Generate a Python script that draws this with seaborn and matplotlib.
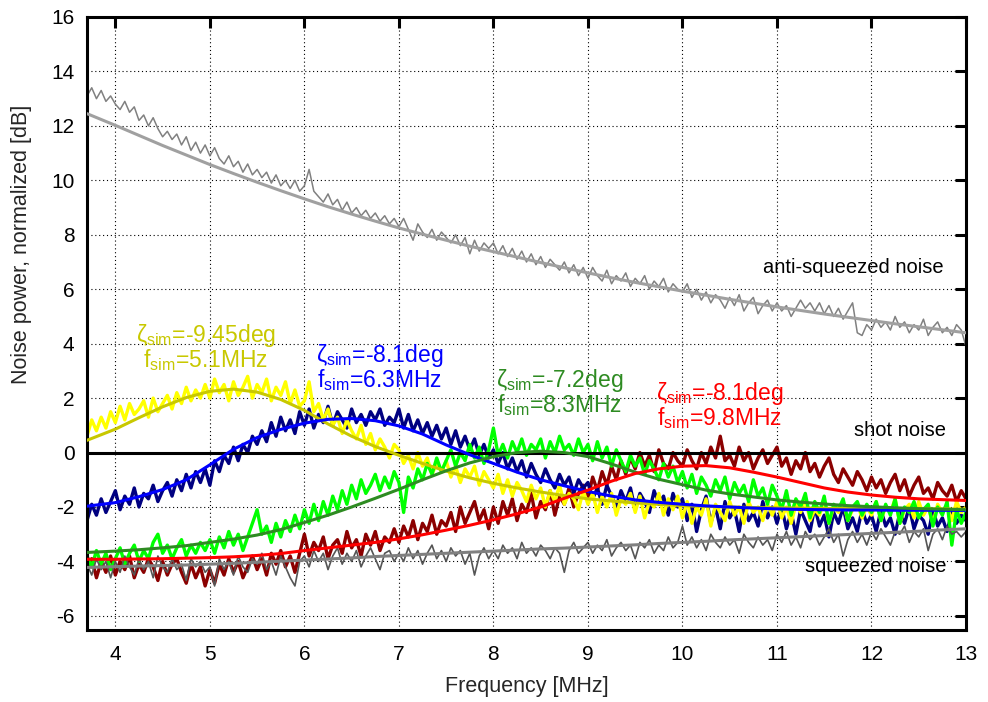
import matplotlib
matplotlib.use("Agg")
import matplotlib.pyplot as plt
import seaborn as sns

# Frequency grids (MHz): measured spectra and simulated curves
freq_trace = [round(3.7 + 0.05 * k, 2) for k in range(187)]
freq_fit = [3.7] + [4.0 + 0.25 * k for k in range(37)]

# Measured noise spectra [dB], normalized to shot noise
anti_trace = [13.1, 13.4, 13.0, 13.3, 12.9, 13.1,
              12.8, 12.6, 12.9, 12.5, 12.7, 12.2, 12.4, 12.0, 12.3, 11.9, 11.6, 11.8, 11.5, 11.7, 11.3, 11.6, 11.1, 11.4, 11.0, 11.3,
              10.9, 11.2, 10.8, 10.6, 10.9, 10.5, 10.7, 10.3, 10.6, 10.2, 10.4, 10.1, 10.3, 9.9, 10.2, 9.8, 10.0, 9.7, 10.0, 9.6,
              9.8, 10.4, 9.6, 9.4, 9.2, 9.5, 9.1, 9.3, 8.9, 9.2, 8.8, 9.0, 8.7, 8.9, 8.6, 8.8, 8.5, 8.7, 8.4, 8.6,
              8.3, 8.6, 8.2, 7.8, 8.4, 8.1, 7.9, 8.2, 7.8, 8.1, 7.9, 7.7, 8.0, 7.6, 7.9, 7.3, 7.8, 7.4, 7.7, 7.5,
              7.7, 7.3, 7.6, 7.2, 7.5, 7.1, 7.4, 7.0, 7.3, 6.9, 7.2, 6.8, 7.1, 6.9, 6.7, 7.0, 6.6, 6.9, 6.5, 6.8,
              6.4, 6.8, 6.5, 6.3, 6.7, 6.2, 6.5, 6.3, 6.6, 6.1, 6.4, 6.2, 6.5, 6.0, 6.3, 6.1, 6.4, 5.9, 6.2, 6.0,
              5.9, 6.2, 5.7, 6.0, 5.6, 5.9, 5.5, 5.8, 5.6, 5.3, 5.7, 5.4, 5.8, 5.2, 5.5, 5.7, 5.1, 5.4, 5.6, 5.2,
              5.5, 5.2, 5.4, 5.0, 5.3, 5.6, 5.3, 5.5, 5.2, 5.5, 5.1, 5.4, 5.0, 5.3, 4.9, 5.2, 5.5, 4.4, 4.3, 4.7,
              4.5, 4.9, 4.6, 4.8, 4.5, 5.0, 4.6, 4.8, 4.4, 4.7, 4.5, 4.9, 4.3, 4.6, 4.8, 4.4, 4.6, 4.3, 4.7, 4.5,
              3.9]

sq_trace = [-4.1, -4.5, -3.9, -4.3, -4.0, -4.6,
            -4.0, -4.4, -3.8, -4.2, -4.5, -3.9, -4.3, -4.0, -4.6, -3.8, -4.2, -4.4, -3.9, -4.3, -4.1, -4.7, -3.9, -4.2, -4.0, -4.4,
            -4.2, -4.9, -3.9, -4.3, -4.0, -4.5, -3.8, -4.2, -4.4, -3.9, -4.1, -3.7, -4.3, -4.0, -4.5, -3.8, -4.2, -4.6, -4.9, -4.0,
            -3.8, -4.2, -3.6, -4.0, -3.7, -4.3, -3.8, -3.5, -4.1, -3.7, -4.0, -3.6, -4.2, -3.8, -3.5, -3.9, -4.3, -3.7, -3.6, -4.0,
            -3.7, -4.0, -3.5, -3.9, -3.6, -4.1, -3.7, -3.4, -3.9, -3.6, -4.0, -3.5, -3.8, -3.6, -4.1, -3.7, -4.5, -3.8, -3.5, -3.9,
            -3.6, -3.9, -3.4, -3.7, -3.5, -3.9, -3.3, -3.7, -3.5, -3.8, -3.4, -3.6, -3.9, -3.5, -3.7, -4.4, -3.6, -3.3, -3.7, -3.5,
            -3.3, -3.7, -3.4, -3.6, -3.2, -3.8, -3.5, -3.3, -3.6, -3.4, -3.9, -3.3, -3.5, -3.2, -3.7, -3.4, -3.6, -3.1, -3.5, -3.3,
            -2.7, -3.4, -3.1, -3.5, -3.2, -3.6, -3.0, -3.3, -3.5, -3.1, -3.4, -3.2, -3.7, -3.0, -3.3, -3.5, -3.1, -3.4, -3.2, -3.6,
            -3.0, -3.3, -2.9, -3.4, -3.1, -3.5, -2.9, -3.2, -3.0, -3.4, -3.1, -2.8, -3.3, -3.0, -3.8, -3.2, -2.9, -3.3, -3.0, -3.4,
            -2.9, -3.2, -2.8, -3.1, -3.4, -2.9, -3.0, -2.7, -3.3, -2.9, -3.1, -2.8, -3.6, -3.0, -2.8, -3.2, -2.7, -3.0, -2.9, -3.1,
            -2.9]

yellow_trace = [0.6, 1.2, 0.8, 1.3, 0.9, 1.5,
                1.1, 1.7, 1.2, 1.8, 1.4, 1.6, 1.9, 1.3, 2.0, 1.5, 1.8, 2.1, 1.6, 2.2, 1.8, 2.4, 1.9, 2.3, 2.0, 2.5,
                2.0, 2.7, 2.2, 2.5, 1.9, 2.6, 2.1, 2.4, 2.8, 2.0, 2.5, 2.2, 2.7, 1.9, 2.4, 2.1, 2.6, 1.8, 2.3, 1.7,
                1.9, 2.6, 1.5, 1.8, 1.2, 1.6, 1.0, 1.3, 0.7, 1.2, 0.8, 0.5, 1.0, 0.3, 0.7, 0.1, 0.5, 0.2, -0.2, 0.3,
                0.1, -0.4, -0.1, -0.6, 0.0, -0.5, -0.2, -0.8, -0.4, -0.7, -0.3, -0.9, -0.5, -1.1, -0.6, -0.9, -0.5, -1.2, -0.7, -1.0,
                -1.3, -0.8, -1.5, -1.0, -1.6, -1.1, -1.4, -1.8, -1.2, -1.7, -1.3, -2.0, -1.4, -1.8, -1.2, -1.9, -1.5, -1.7, -2.1, -1.4,
                -1.9, -1.5, -2.2, -1.6, -2.0, -1.5, -2.3, -1.7, -1.9, -1.5, -2.2, -1.6, -2.4, -1.8, -2.0, -1.5, -2.3, -1.7, -2.1, -1.6,
                -2.4, -1.8, -2.6, -2.0, -2.3, -1.7, -2.7, -1.9, -2.2, -2.5, -1.8, -2.3, -2.0, -2.6, -1.8, -2.2, -2.0, -2.5, -1.9, -2.3,
                -1.8, -2.4, -2.0, -2.6, -1.9, -2.2, -1.7, -2.5, -2.1, -2.3, -1.8, -2.6, -2.0, -2.2, -1.8, -2.5, -2.1, -1.9, -2.4, -2.0,
                -2.3, -1.8, -2.5, -2.0, -2.2, -1.7, -2.6, -2.1, -1.9, -2.4, -1.8, -2.3, -2.0, -2.6, -1.9, -2.2, -2.0, -2.5, -1.8, -2.2,
                -2.0]

blue_trace = [-2.5, -1.9, -2.3, -1.7, -2.2, -1.8,
              -1.4, -2.1, -1.6, -1.9, -1.3, -2.0, -1.5, -1.7, -1.2, -1.8, -1.4, -1.1, -1.6, -1.0, -1.4, -0.8, -1.3, -0.7, -1.1, -0.6,
              -1.2, -0.3, -0.7, -0.1, -0.4, 0.2, -0.3, 0.3, 0.0, 0.6, 0.3, 0.8, 0.4, 1.1, 0.6, 1.3, 0.8, 1.2, 0.7, 1.5,
              1.0, 1.6, 0.9, 1.4, 1.1, 1.7, 1.0, 1.5, 1.2, 0.9, 1.6, 1.1, 1.4, 1.0, 1.5, 1.2, 1.6, 1.0, 1.3, 1.1,
              1.6, 0.9, 1.4, 0.8, 1.2, 0.7, 1.1, 0.6, 1.0, 0.5, 0.9, 0.3, 0.8, 0.2, 0.6, 0.1, 0.5, -0.1, 0.3, -0.2,
              0.1, -0.4, 0.0, -0.6, -0.2, -0.7, -0.3, -0.9, -0.4, -0.8, -1.1, -0.6, -1.0, -1.3, -0.8, -1.2, -0.9, -1.5, -1.0, -1.3,
              -1.1, -1.7, -1.3, -1.9, -1.2, -1.6, -2.0, -1.4, -1.8, -1.3, -2.1, -1.5, -1.8, -2.2, -1.4, -1.9, -1.6, -2.3, -1.5, -2.0,
              -1.7, -2.5, -1.9, -2.9, -2.1, -1.6, -2.6, -2.0, -2.8, -1.8, -2.4, -2.1, -2.9, -1.9, -2.5, -2.2, -2.7, -1.8, -2.4, -2.0,
              -2.6, -2.0, -2.8, -2.2, -3.0, -2.1, -2.5, -2.9, -2.0, -2.7, -2.3, -3.1, -2.2, -2.6, -2.0, -2.8, -2.4, -2.9, -2.1, -2.6,
              -2.3, -2.9, -2.1, -2.7, -2.4, -3.0, -2.2, -2.6, -2.0, -2.8, -2.3, -2.5, -3.0, -2.1, -2.7, -2.4, -2.9, -2.2, -2.6, -2.3,
              -2.5]

green_trace = [-3.8, -4.2, -3.6, -4.1, -3.7, -4.3,
               -3.9, -3.5, -4.1, -3.7, -3.4, -4.0, -3.6, -3.9, -3.3, -3.0, -3.7, -3.4, -3.9, -3.5, -3.2, -3.8, -3.4, -3.7, -3.3, -3.6,
               -3.2, -3.7, -3.1, -3.5, -2.9, -3.4, -3.0, -3.6, -3.1, -2.6, -2.1, -3.0, -2.7, -3.3, -2.6, -3.1, -2.5, -2.9, -2.3, -2.8,
               -2.1, -2.6, -1.9, -2.5, -1.8, -2.3, -1.6, -2.1, -1.4, -1.9, -1.2, -1.7, -1.0, -1.5, -1.2, -0.8, -1.4, -0.9, -1.3, -0.7,
               -1.1, -2.2, -0.9, -1.3, -0.6, -1.0, -0.4, -0.8, -0.2, -0.7, -0.3, 0.1, -0.5, 0.0, -0.3, 0.3, -0.2, 0.2, -0.4, 0.1,
               0.9, -0.1, 0.3, -0.2, 0.4, 0.0, 0.5, -0.1, 0.3, 0.1, 0.5, -0.2, 0.4, 0.0, 0.6, 0.1, 0.3, -0.1, 0.5, 0.0,
               0.3, -0.3, 0.4, -0.2, 0.2, -0.5, 0.1, -0.3, -0.7, -0.1, -0.5, -0.2, -0.8, -0.3, -0.6, -1.0, -0.4, -0.9, -0.5, -1.1,
               -0.7, -1.3, -0.8, -1.5, -0.9, -1.2, -1.6, -1.0, -1.4, -0.9, -1.7, -1.1, -1.5, -1.2, -1.8, -1.0, -1.6, -1.3, -1.9, -1.2,
               -1.6, -2.1, -1.4, -2.3, -1.7, -2.0, -1.5, -2.4, -1.8, -2.2, -1.6, -2.6, -1.9, -2.1, -1.7, -2.5, -2.0, -1.8, -2.3, -1.9,
               -2.2, -1.8, -2.5, -1.9, -2.3, -1.7, -2.6, -2.0, -2.2, -1.8, -2.4, -2.1, -1.9, -2.7, -2.0, -2.3, -1.8, -3.4, -2.1, -2.6,
               -2.2]

red_trace = [-4.3, -3.9, -4.6, -4.0, -4.4, -3.8,
             -4.5, -4.0, -4.3, -3.8, -4.6, -4.1, -4.4, -3.9, -4.2, -4.7, -4.0, -4.5, -4.1, -3.9, -4.4, -4.8, -4.1, -4.6, -4.2, -4.9,
             -4.3, -4.8, -4.1, -4.5, -3.9, -4.4, -4.0, -4.6, -4.2, -3.8, -4.3, -3.9, -4.5, -3.7, -4.1, -3.6, -4.2, -3.8, -4.4, -3.7,
             -3.0, -3.8, -3.3, -3.6, -3.1, -3.9, -3.4, -3.2, -3.7, -2.9, -3.5, -3.2, -3.8, -3.0, -3.4, -2.9, -3.6, -3.1, -3.3, -2.8,
             -3.3, -2.7, -3.1, -2.5, -3.2, -2.6, -2.9, -2.3, -3.0, -2.5, -2.7, -2.2, -2.9, -2.0, -2.6, -2.2, -1.8, -2.5, -2.1, -2.8,
             -2.0, -2.6, -1.8, -2.3, -1.7, -2.5, -1.9, -2.2, -1.5, -2.4, -1.8, -2.1, -1.4, -2.3, -1.6, -1.9, -1.3, -2.0, -1.5, -1.2,
             -1.7, -0.9, -1.4, -0.7, -1.2, -0.5, -1.0, -0.3, -0.8, -0.2, -0.6, 0.0, -0.5, -0.1, -0.7, 0.1, -0.4, -0.6, 0.0, -0.3,
             -0.5, 0.1, -0.3, -0.6, 0.0, -0.4, 0.2, -0.2, 0.6, -0.3, -0.1, -0.5, 0.2, -0.3, 0.0, -0.6, -0.2, 0.1, -0.4, -0.1,
             0.2, -0.5, -0.2, -0.8, -0.3, -0.6, 0.0, -0.7, -0.4, -0.9, -0.5, -0.2, -0.8, -1.1, -0.6, -0.9, -1.2, -0.7, -1.0, -1.4,
             -0.9, -1.3, -1.0, -1.5, -1.1, -0.8, -1.4, -1.0, -1.6, -1.2, -0.9, -1.5, -1.3, -1.7, -1.1, -1.4, -1.6, -1.2, -1.8, -1.4,
             -1.7]

# Simulated spectra [dB]
anti_fit = [12.45, 12.02, 11.65, 11.28, 10.93, 10.58, 10.25, 9.93, 9.62, 9.32, 9.03, 8.76, 8.5,
            8.25, 8.02, 7.8, 7.58, 7.38, 7.18, 6.98, 6.79, 6.6, 6.42, 6.25, 6.09, 5.93, 5.78,
            5.63, 5.49, 5.35, 5.22, 5.09, 4.97, 4.85, 4.73, 4.62, 4.51, 4.4]
sq_fit = [-4.22, -4.19, -4.17, -4.15, -4.13, -4.1, -4.07, -4.03, -3.99, -3.95, -3.91, -3.87, -3.82,
          -3.78, -3.74, -3.7, -3.66, -3.62, -3.58, -3.54, -3.51, -3.47, -3.43, -3.39, -3.34, -3.3,
          -3.26, -3.21, -3.17, -3.13, -3.09, -3.05, -3.01, -2.97, -2.93, -2.89, -2.84, -2.8]
yellow_fit = [0.45, 0.86, 1.28, 1.68, 2.02, 2.25, 2.33, 2.22, 1.95, 1.55, 1.05, 0.6, 0.22,
              -0.1, -0.4, -0.68, -0.93, -1.13, -1.3, -1.45, -1.58, -1.7, -1.78, -1.85, -1.9, -1.95,
              -1.98, -2.0, -2.02, -2.03, -2.04, -2.05, -2.05, -2.06, -2.06, -2.07, -2.07, -2.08]
blue_fit = [-1.97, -1.84, -1.62, -1.36, -1.0, -0.45, 0.12, 0.55, 0.85, 1.08, 1.22, 1.25, 1.17,
            0.98, 0.68, 0.28, -0.08, -0.4, -0.72, -1.0, -1.22, -1.43, -1.6, -1.74, -1.83, -1.9,
            -1.96, -2.0, -2.04, -2.07, -2.09, -2.1, -2.11, -2.11, -2.12, -2.12, -2.12, -2.13]
green_fit = [-3.67, -3.62, -3.57, -3.5, -3.42, -3.3, -3.18, -3.03, -2.83, -2.57, -2.3, -2.0, -1.68,
             -1.35, -1.0, -0.67, -0.38, -0.15, 0.0, 0.05, 0.0, -0.15, -0.42, -0.72, -0.98, -1.18,
             -1.38, -1.52, -1.63, -1.74, -1.82, -1.89, -1.95, -1.99, -2.03, -2.06, -2.08, -2.1]
red_fit = [-3.92, -3.92, -3.91, -3.9, -3.88, -3.86, -3.83, -3.78, -3.71, -3.6, -3.5, -3.4, -3.3,
           -3.17, -3.02, -2.85, -2.67, -2.47, -2.25, -2.0, -1.68, -1.38, -1.05, -0.77, -0.6, -0.5,
           -0.48, -0.56, -0.72, -0.9, -1.1, -1.3, -1.45, -1.56, -1.64, -1.7, -1.73, -1.76]

# Simulation parameters written next to each curve (two centred lines)
sim_labels = [
    (r"$\zeta_{sim}$=-9.45deg" + "\n" + r"$f_{sim}$=5.1MHz", "#c8c800", 4.955, 3.15),
    (r"$\zeta_{sim}$=-8.1deg" + "\n" + r"$f_{sim}$=6.3MHz", "#0000ff", 6.80, 2.41),
    (r"$\zeta_{sim}$=-7.2deg" + "\n" + r"$f_{sim}$=8.3MHz", "#2e8b22", 8.70, 1.49),
    (r"$\zeta_{sim}$=-8.1deg" + "\n" + r"$f_{sim}$=9.8MHz", "#ff0000", 10.39, 1.01),
]

sns.set_theme(style="white")
plt.rcParams["font.family"] = ["Liberation Sans", "DejaVu Sans"]
plt.rcParams["mathtext.fontset"] = "custom"
plt.rcParams["mathtext.rm"] = "Liberation Sans"
plt.rcParams["mathtext.it"] = "Liberation Sans"
plt.rcParams["mathtext.default"] = "regular"
plt.rcParams["axes.unicode_minus"] = False

fig = plt.figure(figsize=(9.88, 7.02), dpi=100)
ax = fig.add_axes([87 / 988, 1 - 629.5 / 702, 879 / 988, 612.5 / 702])

def trace(y, color, lw, z):
    sns.lineplot(x=freq_trace, y=y, ax=ax, color=color, linewidth=lw,
                 estimator=None, sort=False, zorder=z)

def fit(y, color, lw, z):
    sns.lineplot(x=freq_fit, y=y, ax=ax, color=color, linewidth=lw,
                 estimator=None, sort=False, zorder=z)

trace(anti_trace, "#808080", 1.1, 2)
trace(red_trace, "#8b0000", 2.4, 2)
trace(blue_trace, "#000080", 2.4, 2)
trace(yellow_trace, "#ffff00", 2.4, 2)
trace(green_trace, "#00ff00", 2.4, 2)
trace(sq_trace, "#555555", 1.2, 2)

ax.axhline(0, color="black", linewidth=2.2, zorder=3)

fit(anti_fit, "#a0a0a0", 2.2, 4)
fit(sq_fit, "#808080", 2.2, 4)
fit(yellow_fit, "#c8c800", 2.2, 4)
fit(blue_fit, "#0000ff", 2.2, 4)
fit(green_fit, "#2e8b22", 2.2, 4)
fit(red_fit, "#ff0000", 2.2, 4)

for text, color, xc, y_last in sim_labels:
    ax.text(xc, y_last, text, color=color, fontsize=16.5, ha="center", va="baseline",
            multialignment="center", linespacing=0.88, zorder=5)

ax.text(12.76, 6.78, "anti-squeezed noise", fontsize=14.5, ha="right", va="center", color="black")
ax.text(12.79, 0.8, "shot noise", fontsize=14.5, ha="right", va="center", color="black")
ax.text(12.79, -4.2, "squeezed noise", fontsize=14.5, ha="right", va="center", color="black")

ax.set_xlim(3.7, 13)
ax.set_ylim(-6.5, 16)
ax.set_xticks(range(4, 14))
ax.set_yticks(range(-6, 17, 2))
ax.grid(True, color="black", linestyle=(0, (1, 2.5)), linewidth=0.8)
ax.set_axisbelow(True)
for s in ax.spines.values():
    s.set_linewidth(2.2)
    s.set_color("black")
ax.tick_params(axis="both", direction="in", length=8, width=2.2, top=True, right=True,
               labelsize=15, colors="black")
ax.tick_params(axis="x", pad=11)
ax.tick_params(axis="y", pad=9)
ax.set_xlabel("Frequency [MHz]", fontsize=15.5, labelpad=9)
ax.set_ylabel("Noise power, normalized [dB]", fontsize=15.5)
ax.yaxis.set_label_coords(-0.063, 0.629)

fig.savefig("out.png", dpi=100)
